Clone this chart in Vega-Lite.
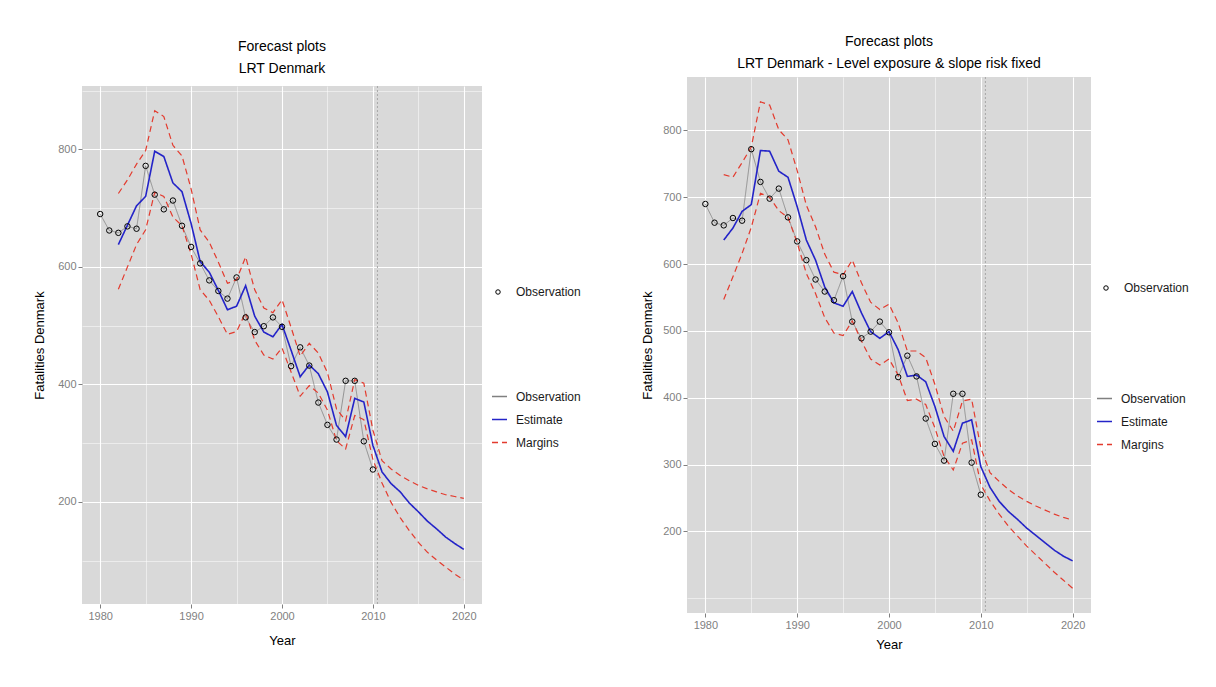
{
  "$schema": "https://vega.github.io/schema/vega-lite/v6.json",
  "background": "white",
  "padding": {"left": 33, "top": 34, "right": 5, "bottom": 5},
  "bounds": "flush",
  "center": true,
  "spacing": 205,
  "resolve": {
    "scale": {"color": "independent", "strokeDash": "independent", "shape": "independent"},
    "legend": {"color": "independent", "strokeDash": "independent", "shape": "independent"}
  },
  "config": {
    "font": "Liberation Sans",
    "view": {"fill": "#D9D9D9", "stroke": null},
    "title": {"fontSize": 14, "fontWeight": "normal", "color": "black", "lineHeight": 22, "offset": 10, "anchor": "middle"},
    "axis": {
      "domain": false,
      "grid": true,
      "gridColor": "white",
      "tickColor": "#7F7F7F",
      "tickSize": 4,
      "labelColor": "#7F7F7F",
      "labelFontSize": 11,
      "labelPadding": 2,
      "titleFontSize": 13,
      "titleFontWeight": "normal",
      "titleColor": "black"
    },
    "legend": {"labelFontSize": 12, "labelColor": "#1a1a1a", "padding": 0, "title": null}
  },
  "datasets": {
    "obs": [
      {"year": 1980, "value": 690}, {"year": 1981, "value": 662}, {"year": 1982, "value": 658},
      {"year": 1983, "value": 669}, {"year": 1984, "value": 665}, {"year": 1985, "value": 772},
      {"year": 1986, "value": 723}, {"year": 1987, "value": 698}, {"year": 1988, "value": 713},
      {"year": 1989, "value": 670}, {"year": 1990, "value": 634}, {"year": 1991, "value": 606},
      {"year": 1992, "value": 577}, {"year": 1993, "value": 559}, {"year": 1994, "value": 546},
      {"year": 1995, "value": 582}, {"year": 1996, "value": 514}, {"year": 1997, "value": 489},
      {"year": 1998, "value": 499}, {"year": 1999, "value": 514}, {"year": 2000, "value": 498},
      {"year": 2001, "value": 431}, {"year": 2002, "value": 463}, {"year": 2003, "value": 432},
      {"year": 2004, "value": 369}, {"year": 2005, "value": 331}, {"year": 2006, "value": 306},
      {"year": 2007, "value": 406}, {"year": 2008, "value": 406}, {"year": 2009, "value": 303},
      {"year": 2010, "value": 255}
    ],
    "fcL": [
      {"year": 1982, "est": 638, "up": 725, "lo": 562},
      {"year": 1983, "est": 671, "up": 748, "lo": 600},
      {"year": 1984, "est": 704, "up": 775, "lo": 638},
      {"year": 1985, "est": 720, "up": 798, "lo": 663},
      {"year": 1986, "est": 797, "up": 866, "lo": 727},
      {"year": 1987, "est": 788, "up": 856, "lo": 720},
      {"year": 1988, "est": 743, "up": 807, "lo": 685},
      {"year": 1989, "est": 728, "up": 789, "lo": 670},
      {"year": 1990, "est": 674, "up": 733, "lo": 622},
      {"year": 1991, "est": 609, "up": 663, "lo": 561},
      {"year": 1992, "est": 591, "up": 642, "lo": 543},
      {"year": 1993, "est": 560, "up": 608, "lo": 515},
      {"year": 1994, "est": 527, "up": 572, "lo": 485},
      {"year": 1995, "est": 533, "up": 578, "lo": 490},
      {"year": 1996, "est": 568, "up": 617, "lo": 522},
      {"year": 1997, "est": 516, "up": 561, "lo": 475},
      {"year": 1998, "est": 489, "up": 530, "lo": 450},
      {"year": 1999, "est": 481, "up": 522, "lo": 443},
      {"year": 2000, "est": 502, "up": 544, "lo": 462},
      {"year": 2001, "est": 458, "up": 497, "lo": 421},
      {"year": 2002, "est": 413, "up": 448, "lo": 380},
      {"year": 2003, "est": 433, "up": 470, "lo": 398},
      {"year": 2004, "est": 418, "up": 453, "lo": 385},
      {"year": 2005, "est": 387, "up": 420, "lo": 356},
      {"year": 2006, "est": 330, "up": 358, "lo": 304},
      {"year": 2007, "est": 311, "up": 338, "lo": 290},
      {"year": 2008, "est": 376, "up": 408, "lo": 347},
      {"year": 2009, "est": 370, "up": 402, "lo": 340},
      {"year": 2010, "est": 296, "up": 322, "lo": 272},
      {"year": 2011, "est": 251, "up": 270, "lo": 232},
      {"year": 2012, "est": 231, "up": 256, "lo": 199},
      {"year": 2013, "est": 217, "up": 245, "lo": 173},
      {"year": 2014, "est": 198, "up": 236, "lo": 151},
      {"year": 2015, "est": 183, "up": 228, "lo": 131},
      {"year": 2016, "est": 167, "up": 222, "lo": 114},
      {"year": 2017, "est": 154, "up": 217, "lo": 101},
      {"year": 2018, "est": 140, "up": 212, "lo": 89},
      {"year": 2019, "est": 129, "up": 209, "lo": 77},
      {"year": 2020, "est": 119, "up": 206, "lo": 67}
    ],
    "fcR": [
      {"year": 1982, "est": 636, "up": 734, "lo": 547},
      {"year": 1983, "est": 654, "up": 730, "lo": 581},
      {"year": 1984, "est": 679, "up": 752, "lo": 616},
      {"year": 1985, "est": 689, "up": 775, "lo": 655},
      {"year": 1986, "est": 770, "up": 843, "lo": 706},
      {"year": 1987, "est": 769, "up": 838, "lo": 700},
      {"year": 1988, "est": 739, "up": 801, "lo": 680},
      {"year": 1989, "est": 730, "up": 786, "lo": 670},
      {"year": 1990, "est": 686, "up": 740, "lo": 632},
      {"year": 1991, "est": 636, "up": 688, "lo": 586},
      {"year": 1992, "est": 606, "up": 656, "lo": 556},
      {"year": 1993, "est": 566, "up": 615, "lo": 520},
      {"year": 1994, "est": 542, "up": 588, "lo": 497},
      {"year": 1995, "est": 537, "up": 584, "lo": 493},
      {"year": 1996, "est": 559, "up": 606, "lo": 515},
      {"year": 1997, "est": 527, "up": 572, "lo": 485},
      {"year": 1998, "est": 499, "up": 543, "lo": 458},
      {"year": 1999, "est": 489, "up": 532, "lo": 449},
      {"year": 2000, "est": 499, "up": 540, "lo": 458},
      {"year": 2001, "est": 472, "up": 512, "lo": 434},
      {"year": 2002, "est": 432, "up": 470, "lo": 396},
      {"year": 2003, "est": 434, "up": 470, "lo": 398},
      {"year": 2004, "est": 424, "up": 460, "lo": 390},
      {"year": 2005, "est": 387, "up": 420, "lo": 355},
      {"year": 2006, "est": 342, "up": 372, "lo": 312},
      {"year": 2007, "est": 320, "up": 350, "lo": 292},
      {"year": 2008, "est": 362, "up": 395, "lo": 332},
      {"year": 2009, "est": 367, "up": 398, "lo": 337},
      {"year": 2010, "est": 297, "up": 325, "lo": 270},
      {"year": 2011, "est": 266, "up": 288, "lo": 246},
      {"year": 2012, "est": 245, "up": 275, "lo": 226},
      {"year": 2013, "est": 230, "up": 263, "lo": 208},
      {"year": 2014, "est": 218, "up": 253, "lo": 193},
      {"year": 2015, "est": 205, "up": 245, "lo": 178},
      {"year": 2016, "est": 194, "up": 238, "lo": 165},
      {"year": 2017, "est": 183, "up": 232, "lo": 152},
      {"year": 2018, "est": 172, "up": 226, "lo": 139},
      {"year": 2019, "est": 163, "up": 221, "lo": 127},
      {"year": 2020, "est": 156, "up": 217, "lo": 115}
    ]
  },
  "hconcat": [
    {
      "width": 400,
      "height": 518,
      "title": {"text": ["Forecast plots", "LRT Denmark"]},
      "layer": [
        {
          "data": {"values": [{"year": 2010.5}]},
          "mark": {"type": "rule", "color": "#A8A8A8", "strokeDash": [2, 2], "strokeWidth": 1},
          "encoding": {
            "x": {
              "field": "year", "type": "quantitative",
              "scale": {"domain": [1978, 2022], "nice": false, "zero": false},
              "axis": {
                "values": [1980, 1985, 1990, 1995, 2000, 2005, 2010, 2015, 2020],
                "format": "d",
                "title": "Year",
                "titlePadding": 13,
                "gridWidth": {"condition": {"test": "datum.value % 10 === 0", "value": 1.1}, "value": 0.5},
                "tickOpacity": {"condition": {"test": "datum.value % 10 === 0", "value": 1}, "value": 0},
                "labelExpr": "datum.value % 10 === 0 ? datum.label : ''"
              }
            }
          }
        },
        {
          "data": {"name": "obs"},
          "mark": {"type": "line", "strokeWidth": 0.8},
          "encoding": {
            "x": {"field": "year", "type": "quantitative"},
            "y": {
              "field": "value", "type": "quantitative",
              "scale": {"domain": [26, 908], "nice": false, "zero": false},
              "axis": {
                "values": [100, 200, 300, 400, 500, 600, 700, 800, 900],
                "title": "Fatalities Denmark",
                "titlePadding": 11,
                "gridWidth": {"condition": {"test": "datum.value % 200 === 0", "value": 1.1}, "value": 0.5},
                "tickOpacity": {"condition": {"test": "datum.value % 200 === 0", "value": 1}, "value": 0},
                "labelExpr": "datum.value % 200 === 0 ? datum.label : ''"
              }
            },
            "color": {
              "datum": "Observation",
              "scale": {"domain": ["Observation", "Estimate", "Margins"], "range": ["#808080", "#2424C8", "#E33B2E"]},
              "legend": {"orient": "none", "legendX": 409, "legendY": 302, "symbolType": "stroke", "symbolSize": 225, "symbolStrokeWidth": 1.3, "rowPadding": 8, "labelOffset": 8}
            },
            "strokeDash": {
              "datum": "Observation",
              "scale": {"domain": ["Observation", "Estimate", "Margins"], "range": [[1, 0], [1, 0], [6, 4]]},
              "legend": {"orient": "none", "legendX": 409, "legendY": 302, "symbolType": "stroke", "symbolSize": 225, "symbolStrokeWidth": 1.3, "rowPadding": 8, "labelOffset": 8}
            }
          }
        },
        {
          "data": {"name": "fcL"},
          "mark": {"type": "line", "strokeWidth": 1.6},
          "encoding": {
            "x": {"field": "year", "type": "quantitative"},
            "y": {"field": "est", "type": "quantitative"},
            "color": {"datum": "Estimate"},
            "strokeDash": {"datum": "Estimate"}
          }
        },
        {
          "data": {"name": "fcL"},
          "mark": {"type": "line", "strokeWidth": 1.2},
          "encoding": {
            "x": {"field": "year", "type": "quantitative"},
            "y": {"field": "up", "type": "quantitative"},
            "color": {"datum": "Margins"},
            "strokeDash": {"datum": "Margins"}
          }
        },
        {
          "data": {"name": "fcL"},
          "mark": {"type": "line", "strokeWidth": 1.2},
          "encoding": {
            "x": {"field": "year", "type": "quantitative"},
            "y": {"field": "lo", "type": "quantitative"},
            "color": {"datum": "Margins"},
            "strokeDash": {"datum": "Margins"}
          }
        },
        {
          "data": {"name": "obs"},
          "mark": {"type": "point", "filled": false, "color": "black", "size": 30, "strokeWidth": 1, "opacity": 1},
          "encoding": {
            "x": {"field": "year", "type": "quantitative"},
            "y": {"field": "value", "type": "quantitative"},
            "shape": {
              "datum": "Observation",
              "scale": {"domain": ["Observation"], "range": ["circle"]},
              "legend": {"orient": "none", "legendX": 410, "legendY": 200, "symbolSize": 20, "symbolFillColor": "transparent", "symbolStrokeColor": "black", "symbolStrokeWidth": 1, "labelOffset": 12}
            }
          }
        }
      ]
    },
    {
      "width": 404,
      "height": 536,
      "title": {"text": ["Forecast plots", "LRT Denmark - Level exposure & slope risk fixed"], "offset": 6},
      "layer": [
        {
          "data": {"values": [{"year": 2010.5}]},
          "mark": {"type": "rule", "color": "#A8A8A8", "strokeDash": [2, 2], "strokeWidth": 1},
          "encoding": {
            "x": {
              "field": "year", "type": "quantitative",
              "scale": {"domain": [1978, 2022], "nice": false, "zero": false},
              "axis": {
                "values": [1980, 1985, 1990, 1995, 2000, 2005, 2010, 2015, 2020],
                "format": "d",
                "title": "Year",
                "titlePadding": 8,
                "gridWidth": {"condition": {"test": "datum.value % 10 === 0", "value": 1.1}, "value": 0.5},
                "tickOpacity": {"condition": {"test": "datum.value % 10 === 0", "value": 1}, "value": 0},
                "labelExpr": "datum.value % 10 === 0 ? datum.label : ''"
              }
            }
          }
        },
        {
          "data": {"name": "obs"},
          "mark": {"type": "line", "strokeWidth": 0.8},
          "encoding": {
            "x": {"field": "year", "type": "quantitative"},
            "y": {
              "field": "value", "type": "quantitative",
              "scale": {"domain": [78, 880], "nice": false, "zero": false},
              "axis": {
                "values": [100, 150, 200, 250, 300, 350, 400, 450, 500, 550, 600, 650, 700, 750, 800, 850],
                "title": "Fatalities Denmark",
                "titlePadding": 8,
                "gridWidth": {"condition": {"test": "datum.value % 100 === 0 && datum.value >= 200", "value": 1.1}, "value": 0.5},
                "tickOpacity": {"condition": {"test": "datum.value % 100 === 0 && datum.value >= 200", "value": 1}, "value": 0},
                "labelExpr": "datum.value % 100 === 0 && datum.value >= 200 ? datum.label : ''"
              }
            },
            "color": {
              "datum": "Observation",
              "scale": {"domain": ["Observation", "Estimate", "Margins"], "range": ["#808080", "#2424C8", "#E33B2E"]},
              "legend": {"orient": "none", "legendX": 409, "legendY": 313, "symbolType": "stroke", "symbolSize": 225, "symbolStrokeWidth": 1.3, "rowPadding": 8, "labelOffset": 8}
            },
            "strokeDash": {
              "datum": "Observation",
              "scale": {"domain": ["Observation", "Estimate", "Margins"], "range": [[1, 0], [1, 0], [6, 4]]},
              "legend": {"orient": "none", "legendX": 409, "legendY": 313, "symbolType": "stroke", "symbolSize": 225, "symbolStrokeWidth": 1.3, "rowPadding": 8, "labelOffset": 8}
            }
          }
        },
        {
          "data": {"name": "fcR"},
          "mark": {"type": "line", "strokeWidth": 1.6},
          "encoding": {
            "x": {"field": "year", "type": "quantitative"},
            "y": {"field": "est", "type": "quantitative"},
            "color": {"datum": "Estimate"},
            "strokeDash": {"datum": "Estimate"}
          }
        },
        {
          "data": {"name": "fcR"},
          "mark": {"type": "line", "strokeWidth": 1.2},
          "encoding": {
            "x": {"field": "year", "type": "quantitative"},
            "y": {"field": "up", "type": "quantitative"},
            "color": {"datum": "Margins"},
            "strokeDash": {"datum": "Margins"}
          }
        },
        {
          "data": {"name": "fcR"},
          "mark": {"type": "line", "strokeWidth": 1.2},
          "encoding": {
            "x": {"field": "year", "type": "quantitative"},
            "y": {"field": "lo", "type": "quantitative"},
            "color": {"datum": "Margins"},
            "strokeDash": {"datum": "Margins"}
          }
        },
        {
          "data": {"name": "obs"},
          "mark": {"type": "point", "filled": false, "color": "black", "size": 30, "strokeWidth": 1, "opacity": 1},
          "encoding": {
            "x": {"field": "year", "type": "quantitative"},
            "y": {"field": "value", "type": "quantitative"},
            "shape": {
              "datum": "Observation",
              "scale": {"domain": ["Observation"], "range": ["circle"]},
              "legend": {"orient": "none", "legendX": 413, "legendY": 205, "symbolSize": 20, "symbolFillColor": "transparent", "symbolStrokeColor": "black", "symbolStrokeWidth": 1, "labelOffset": 12}
            }
          }
        }
      ]
    }
  ]
}
